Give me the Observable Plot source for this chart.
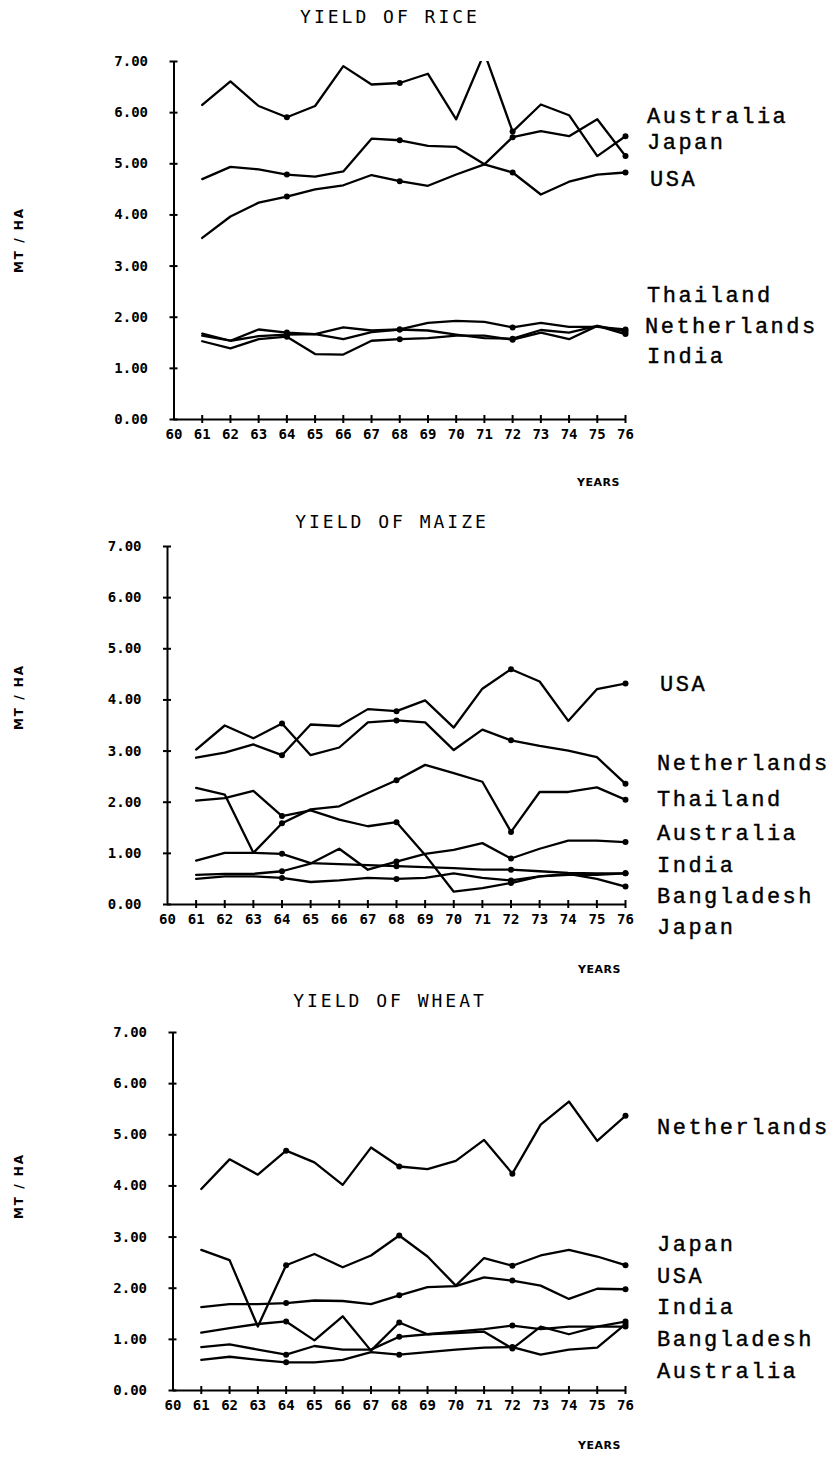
<!DOCTYPE html>
<html>
<head>
<meta charset="utf-8">
<script src="https://cdn.jsdelivr.net/npm/d3@7"></script>
<script src="https://cdn.jsdelivr.net/npm/@observablehq/plot@0.6"></script>
<style>
  body { margin: 0; background: #fff; }
  #page { position: relative; width: 838px; height: 1465px; overflow: hidden; background: #fff; }
  .panel { position: absolute; left: 0; }
  .title { position: absolute; font-family: "DejaVu Sans Mono", monospace; font-size: 18px; letter-spacing: 3px; transform: translate(-50%, -50%); white-space: nowrap; color: #000; }
  .years { position: absolute; font-family: "DejaVu Sans", sans-serif; font-weight: bold; font-size: 11px; letter-spacing: 0.5px; transform: translateY(-50%); color: #000; }
  .ylab { position: absolute; font-family: "DejaVu Sans", sans-serif; font-weight: bold; font-size: 12px; letter-spacing: 2px; transform: translate(-50%, -50%) rotate(-90deg); white-space: nowrap; color: #000; }
  .lab { position: absolute; font-family: "Liberation Mono", "Courier New", monospace; font-size: 22px; letter-spacing: 2.5px; -webkit-text-stroke: 0.4px #000; transform: translateY(-50%); white-space: nowrap; color: #000; }
</style>
</head>
<body>
<div id="page"></div>
<script>
// ---------- data ----------
const years = [61, 62, 63, 64, 65, 66, 67, 68, 69, 70, 71, 72, 73, 74, 75, 76];
const xTicks = [60, 61, 62, 63, 64, 65, 66, 67, 68, 69, 70, 71, 72, 73, 74, 75, 76];
const yTicks = [0, 1, 2, 3, 4, 5, 6, 7];

// Rice (MT / HA)
const riceAustralia   = [6.15, 6.61, 6.13, 5.91, 6.13, 6.91, 6.55, 6.58, 6.76, 5.87, 7.17, 5.63, 6.16, 5.95, 5.15, 5.54];
const riceJapan       = [4.70, 4.94, 4.89, 4.79, 4.75, 4.85, 5.49, 5.46, 5.35, 5.33, 4.99, 5.52, 5.64, 5.54, 5.87, 5.15];
const riceUSA         = [3.55, 3.97, 4.24, 4.36, 4.50, 4.58, 4.78, 4.66, 4.57, 4.79, 4.99, 4.83, 4.40, 4.65, 4.79, 4.83];
const riceThailand    = [1.68, 1.54, 1.76, 1.70, 1.67, 1.80, 1.74, 1.76, 1.89, 1.93, 1.91, 1.80, 1.89, 1.81, 1.81, 1.76];
const riceNetherlands = [1.64, 1.54, 1.63, 1.66, 1.67, 1.57, 1.71, 1.76, 1.74, 1.66, 1.59, 1.58, 1.75, 1.70, 1.83, 1.72];
const riceIndia       = [1.53, 1.39, 1.57, 1.62, 1.28, 1.27, 1.54, 1.57, 1.59, 1.64, 1.64, 1.56, 1.70, 1.57, 1.83, 1.67];

// Maize (MT / HA)
const maizeUSA         = [2.87, 2.97, 3.13, 2.92, 3.52, 3.49, 3.82, 3.78, 3.99, 3.46, 4.22, 4.60, 4.36, 3.59, 4.21, 4.32];
const maizeNetherlands = [3.03, 3.50, 3.25, 3.54, 2.92, 3.07, 3.56, 3.60, 3.56, 3.02, 3.42, 3.21, 3.10, 3.01, 2.88, 2.36];
const maizeThailand    = [2.28, 2.15, 1.01, 1.59, 1.86, 1.92, 2.18, 2.43, 2.73, 2.57, 2.40, 1.42, 2.20, 2.20, 2.29, 2.05];
const maizeAustralia   = [0.58, 0.60, 0.60, 0.65, 0.80, 1.09, 0.68, 0.84, 0.99, 1.07, 1.20, 0.90, 1.09, 1.25, 1.25, 1.22];
const maizeIndia       = [0.86, 1.01, 1.01, 0.99, 0.81, 0.79, 0.77, 0.75, 0.73, 0.71, 0.68, 0.68, 0.65, 0.62, 0.61, 0.61];
const maizeBangladesh  = [0.50, 0.55, 0.55, 0.52, 0.44, 0.47, 0.52, 0.50, 0.52, 0.61, 0.52, 0.47, 0.55, 0.58, 0.58, 0.61];
const maizeJapan       = [2.03, 2.08, 2.22, 1.73, 1.84, 1.66, 1.53, 1.61, 0.97, 0.25, 0.32, 0.42, 0.55, 0.60, 0.50, 0.35];

// Wheat (MT / HA)
const wheatNetherlands = [3.94, 4.52, 4.22, 4.69, 4.46, 4.02, 4.75, 4.38, 4.33, 4.49, 4.90, 4.24, 5.20, 5.65, 4.88, 5.37];
const wheatJapan       = [2.75, 2.55, 1.25, 2.45, 2.67, 2.41, 2.64, 3.03, 2.62, 2.05, 2.59, 2.44, 2.64, 2.75, 2.62, 2.45];
const wheatUSA         = [1.63, 1.69, 1.69, 1.71, 1.76, 1.75, 1.69, 1.86, 2.02, 2.04, 2.21, 2.15, 2.05, 1.79, 1.99, 1.98];
const wheatIndia       = [1.13, 1.22, 1.30, 1.35, 0.98, 1.45, 0.78, 1.33, 1.10, 1.12, 1.15, 0.82, 1.25, 1.10, 1.25, 1.35];
const wheatBangladesh  = [0.85, 0.90, 0.80, 0.70, 0.87, 0.80, 0.80, 1.05, 1.10, 1.15, 1.20, 1.27, 1.20, 1.25, 1.25, 1.25];
const wheatAustralia   = [0.60, 0.66, 0.60, 0.55, 0.55, 0.60, 0.75, 0.70, 0.75, 0.80, 0.84, 0.85, 0.70, 0.80, 0.84, 1.30];

// label texts
const titles = ["YIELD OF RICE", "YIELD OF MAIZE", "YIELD OF WHEAT"];
const yAxisLabel = "MT / HA";
const xAxisLabel = "YEARS";
const riceLabels  = ["Australia", "Japan", "USA", "Thailand", "Netherlands", "India"];
const maizeLabels = ["USA", "Netherlands", "Thailand", "Australia", "India", "Bangladesh", "Japan"];
const wheatLabels = ["Netherlands", "Japan", "USA", "India", "Bangladesh", "Australia"];

// ---------- layout (positions only) ----------
const panelTops   = [0, 485, 971];
const marginLefts = [173.5, 167, 172.5];
const titlePos    = [[390, 16], [392, 521], [390, 1000]];
const yearsPos    = [[577, 482], [578, 969], [578, 1445]];
const ylabPos     = [[19, 240], [19, 697], [19, 1186]];
const labelX      = [[647, 647, 650, 647, 645, 647], [660, 657, 657, 657, 657, 657, 657], [657, 657, 657, 657, 657, 657]];
const labelY      = [[117, 143, 180, 296, 327, 357], [685, 764, 800, 834, 866, 897, 928], [1128, 1245, 1277, 1308, 1340, 1372]];

const panels = [
  {names: riceLabels, values: [riceAustralia, riceJapan, riceUSA, riceThailand, riceNetherlands, riceIndia]},
  {names: maizeLabels, values: [maizeUSA, maizeNetherlands, maizeThailand, maizeAustralia, maizeIndia, maizeBangladesh, maizeJapan]},
  {names: wheatLabels, values: [wheatNetherlands, wheatJapan, wheatUSA, wheatIndia, wheatBangladesh, wheatAustralia]}
];

const page = document.getElementById("page");

function addDiv(cls, text, x, y) {
  const d = document.createElement("div");
  d.className = cls;
  d.textContent = text;
  d.style.left = x + "px";
  d.style.top = y + "px";
  page.appendChild(d);
}

panels.forEach((p, i) => {
  const rows = p.names.flatMap((name, k) => years.map((yr, j) => ({country: name, year: yr, value: p.values[k][j]})));
  const width = 640, height = 450, mt = 61, mb = 31, mr = 15, ml = marginLefts[i];
  const frameW = width - ml - mr, frameH = height - mt - mb;
  const chart = Plot.plot({
    width, height,
    marginLeft: ml, marginRight: mr, marginTop: mt, marginBottom: mb,
    x: {domain: [60, 76]},
    y: {domain: [0, 7]},
    style: {fontFamily: "'DejaVu Sans Mono', monospace", fontSize: "14px", fontWeight: "bold", color: "black", background: "transparent", overflow: "visible"},
    marks: [
      Plot.ruleX([60], {stroke: "black", strokeWidth: 2}),
      Plot.ruleY([0], {stroke: "black", strokeWidth: 2}),
      Plot.tickY(yTicks, {y: d => d, dx: -4, insetRight: frameW - 8, stroke: "black", strokeWidth: 2}),
      Plot.tickX(xTicks.slice(1), {x: d => d, dy: 4, insetTop: frameH - 8, stroke: "black", strokeWidth: 2}),
      Plot.axisY({ticks: yTicks, tickSize: 0, tickPadding: 26, tickFormat: d3.format(".2f"), label: null, fill: "black"}),
      Plot.axisX({ticks: xTicks, tickSize: 0, tickPadding: 10, tickFormat: d => String(d), label: null, fill: "black"}),
      Plot.line(rows, {x: "year", y: "value", z: "country", stroke: "black", strokeWidth: 2.3, clip: true}),
      Plot.dot(rows.filter(d => d.year % 4 === 0), {x: "year", y: "value", r: 3, fill: "black"})
    ]
  });
  chart.classList.add("panel");
  chart.style.top = panelTops[i] + "px";
  page.appendChild(chart);

  addDiv("title", titles[i], titlePos[i][0], titlePos[i][1]);
  addDiv("years", xAxisLabel, yearsPos[i][0], yearsPos[i][1]);
  addDiv("ylab", yAxisLabel, ylabPos[i][0], ylabPos[i][1]);
  p.names.forEach((name, k) => addDiv("lab", name, labelX[i][k], labelY[i][k]));
});
</script>
</body>
</html>
